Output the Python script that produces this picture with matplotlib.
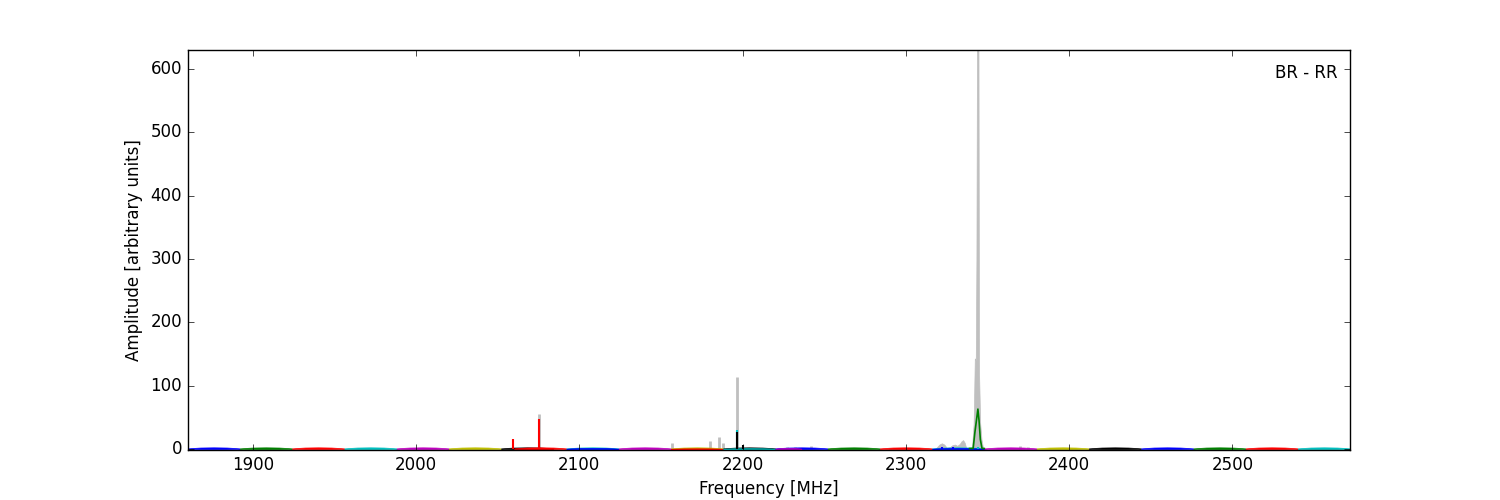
import matplotlib
matplotlib.use('Agg')
import matplotlib.pyplot as plt

plt.style.use('classic')

# ---- data ----
# sub-band segments (MHz) and their colours
seg_start = [1860, 1892, 1924, 1956, 1988, 2020, 2052, 2060, 2092, 2092, 2124, 2156, 2156,
             2188, 2188, 2220, 2220, 2252, 2284, 2316, 2316, 2348, 2380, 2412, 2444, 2476, 2508, 2540]
seg_end = [1892, 1924, 1956, 1988, 2020, 2052, 2084, 2092, 2124, 2124, 2156, 2188, 2188,
           2220, 2220, 2252, 2236, 2284, 2316, 2348, 2348, 2380, 2412, 2444, 2476, 2508, 2540, 2572]
seg_color = ['b', 'g', 'r', 'c', 'm', 'y', 'k', 'r', 'c', 'b', 'm', 'y', 'r',
             'k', 'c', 'b', 'm', 'g', 'r', 'c', 'b', 'm', 'y', 'k', 'b', 'g', 'r', 'c']
seg_level = [1.0, 1.0, 1.0, 1.0, 1.0, 1.0, 1.0, 1.0, 1.0, 0.6, 1.0, 1.0, 0.4,
             1.0, 0.5, 1.0, 0.6, 1.0, 1.0, 1.0, 0.6, 1.0, 1.0, 1.0, 1.0, 1.0, 1.0, 1.0]

# band-pass envelope across one segment (fraction of width, amplitude)
band_pos = [0.0, 0.1, 0.25, 0.5, 0.75, 0.9, 1.0]
band_top = [0.8, 1.6, 2.3, 2.6, 2.3, 1.6, 0.8]
band_bottom = [0.4, 0.1, -0.2, -0.3, -0.2, 0.1, 0.4]

# narrow coloured spikes (MHz, amplitude, colour)
spike_freq = [2059.5, 2075.5, 2196.3, 2196.6, 2200.0, 2322.0, 2329.0, 2344.0]
spike_amp = [16, 47, 30, 27, 6, 3.5, 3, 3]
spike_color = ['r', 'r', 'c', 'k', 'k', 'b', 'b', 'c']

# grey spikes (maximum envelope)
gray_spike_freq = [2075.5, 2157.0, 2180.0, 2185.5, 2188.0, 2196.5, 2227.0, 2232.0, 2242.0,
                   2290.0, 2370.0, 2375.0]
gray_spike_amp = [56, 9, 13, 19, 9, 113, 3, 3, 4, 2, 5, 3]

# grey envelope around the strong line near 2344 MHz
gray_freq = [2318.0, 2320.5, 2322.0, 2323.5, 2325.0, 2327.0, 2328.5, 2330.0, 2331.5, 2333.0,
             2334.0, 2335.0, 2336.0, 2337.0, 2338.5, 2340.5, 2341.5, 2342.2, 2342.8, 2343.2,
             2343.6, 2344.4, 2344.8, 2345.5, 2346.3, 2347.2, 2349.0]
gray_amp = [0, 7, 9, 7, 2, 3, 6, 7, 5, 8,
            12, 14, 10, 1, 0, 2, 40, 143, 140, 300,
            700, 700, 120, 40, 15, 2, 0]

# green line at the strong peak
peak_freq = [2339.0, 2341.2, 2342.2, 2343.2, 2344.1, 2344.8, 2345.6, 2346.6, 2348.0]
peak_amp = [0.8, 1, 25, 45, 63, 45, 15, 1, 0.8]

x_ticks = [1900, 2000, 2100, 2200, 2300, 2400, 2500]
y_ticks = [0, 100, 200, 300, 400, 500, 600]

# ---- plot ----
fig = plt.figure(figsize=(15, 5), dpi=100, facecolor='white')
ax = fig.add_subplot(111)
fig.subplots_adjust(left=0.125, right=0.9, bottom=0.1, top=0.9)

ax.fill_between(gray_freq, 0, gray_amp, color='0.75', edgecolor='0.75', lw=0.5, zorder=1)
ax.vlines(gray_spike_freq, 0, gray_spike_amp, colors='0.75', lw=2, zorder=1)

for s, e, c, lv in zip(seg_start, seg_end, seg_color, seg_level):
    xs = [s + p * (e - s) for p in band_pos]
    top = [t * lv for t in band_top]
    bot = [b * lv for b in band_bottom]
    ax.fill_between(xs, bot, top, color=c, edgecolor=c, lw=0.5, zorder=2)

ax.vlines(spike_freq, 0, spike_amp, colors=spike_color, lw=1.5, zorder=3)
ax.plot(peak_freq, peak_amp, color='g', lw=1.2, zorder=3)

ax.set_xlim(1860, 2572)
ax.set_ylim(-1.6, 630)
ax.set_xticks(x_ticks)
ax.set_yticks(y_ticks)
ax.set_xlabel('Frequency [MHz]')
ax.set_ylabel('Amplitude [arbitrary units]')
ax.text(0.989, 0.965, 'BR - RR', transform=ax.transAxes, ha='right', va='top', fontsize=12)

fig.savefig('out.png', dpi=100, facecolor='white')
